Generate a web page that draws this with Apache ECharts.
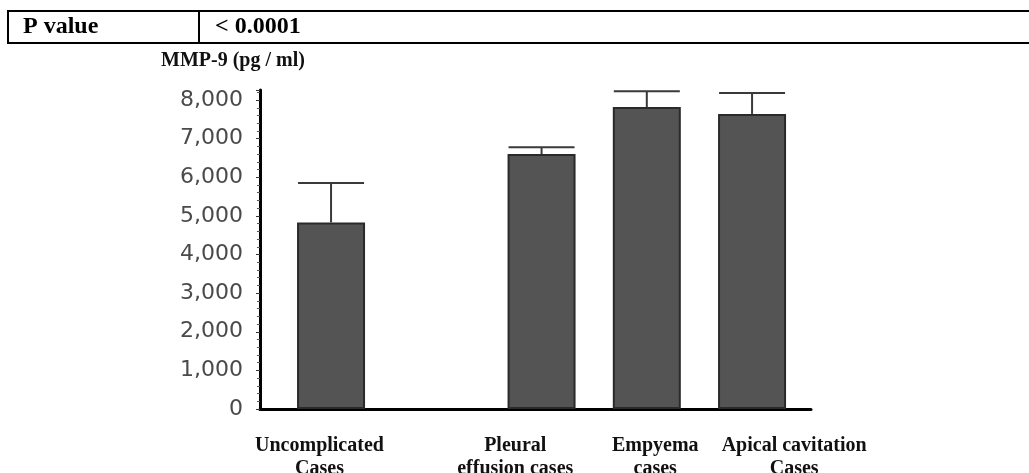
<!DOCTYPE html>
<html>
<head>
<meta charset="utf-8">
<script src="https://cdn.jsdelivr.net/npm/echarts@6/dist/echarts.min.js"></script>
<style>
  html, body { margin: 0; padding: 0; background: #fff; }
  #chart { width: 1029px; height: 473px; }
</style>
</head>
<body>
<div id="chart"></div>
<script>
// groups, in order along the x axis
const categories = ['Uncomplicated\nCases', 'Pleural\neffusion cases', 'Empyema\ncases', 'Apical cavitation\nCases'];
// slot of each bar on the x scale (one empty slot after the first bar)
const barSlots = [1, 3, 4, 5];
// mean MMP-9 (pg/ml) and top of the error bar
const means = [4830, 6600, 7820, 7640];
const upper = [5850, 6780, 8230, 8180];
// y tick labels
const yTicks = [0, 1000, 2000, 3000, 4000, 5000, 6000, 7000, 8000];
// where the group names sit on the x scale (not centred under the bars in the original)
const labelSlots = [0.89, 2.75, 4.08, 5.4];

const chart = echarts.init(document.getElementById('chart'));

const serif = '"Liberation Serif", "Times New Roman", serif';

chart.setOption({
    animation: false,
    backgroundColor: '#fff',
    title: {
        text: 'MMP-9 (pg / ml)',
        left: 156,
        top: 46,
        textStyle: { fontFamily: serif, fontWeight: 'bold', fontSize: 20, color: '#111' }
    },
    grid: { left: 260, right: 218, top: 90, bottom: 64, outerBoundsMode: 'none' },
    xAxis: {
        type: 'value',
        min: 0.325,
        max: 5.56,
        splitLine: { show: false },
        axisTick: { show: false },
        axisLine: { show: true, lineStyle: { color: '#000', width: 3 } },
        axisLabel: {
            customValues: labelSlots,
            margin: 25,
            fontFamily: serif,
            fontWeight: 'bold',
            fontSize: 20,
            lineHeight: 23,
            color: '#111',
            formatter: function (v) {
                const i = labelSlots.indexOf(v);
                return i >= 0 ? categories[i] : '';
            }
        }
    },
    yAxis: {
        type: 'value',
        min: 0,
        max: 8260,
        interval: 1000,
        splitLine: { show: false },
        axisLine: { show: true, lineStyle: { color: '#000', width: 3 } },
        axisTick: { show: true, length: 4, lineStyle: { color: '#333' } },
        minorTick: { show: true, splitNumber: 5, length: 3, lineStyle: { color: '#555' } },
        axisLabel: {
            showMaxLabel: false,
            margin: 17,
            fontFamily: '"DejaVu Sans", Verdana, sans-serif',
            fontSize: 22,
            color: '#4a4a4a',
            formatter: function (v) {
                return yTicks.indexOf(v) >= 0 ? v.toLocaleString('en-US') : '';
            }
        }
    },
    graphic: [
        // table rows above the chart
        { type: 'line', shape: { x1: 8, y1: 11, x2: 1029, y2: 11 }, style: { stroke: '#000', lineWidth: 2 } },
        { type: 'line', shape: { x1: 8, y1: 43, x2: 1029, y2: 43 }, style: { stroke: '#000', lineWidth: 2 } },
        { type: 'line', shape: { x1: 8, y1: 10, x2: 8, y2: 44 }, style: { stroke: '#000', lineWidth: 2 } },
        { type: 'line', shape: { x1: 199, y1: 10, x2: 199, y2: 44 }, style: { stroke: '#000', lineWidth: 2 } },
        { type: 'text', left: 23, top: 15, style: { text: 'P value', font: 'bold 24px ' + serif, fill: '#000' } },
        { type: 'text', left: 215, top: 15, style: { text: '< 0.0001', font: 'bold 24px ' + serif, fill: '#000' } }
    ],
    series: [
        {
            type: 'bar',
            data: barSlots.map((x, i) => [x, means[i]]),
            barWidth: 68,
            itemStyle: { color: '#545454', borderColor: '#2a2a2a', borderWidth: 2 },
            z: 2
        },
        {
            type: 'custom',
            data: barSlots.map((x, i) => [x, means[i], upper[i]]),
            encode: { x: 0, y: [1, 2] },
            z: 3,
            renderItem: function (params, api) {
                const lo = api.coord([api.value(0), api.value(1)]);
                const hi = api.coord([api.value(0), api.value(2)]);
                const st = { stroke: '#3a3a3a', lineWidth: 2 };
                return {
                    type: 'group',
                    children: [
                        { type: 'line', shape: { x1: lo[0], y1: lo[1], x2: hi[0], y2: hi[1] }, style: st },
                        { type: 'line', shape: { x1: hi[0] - 33, y1: hi[1], x2: hi[0] + 33, y2: hi[1] }, style: st }
                    ]
                };
            }
        }
    ]
});

window.addEventListener('resize', function () {
    chart.resize();
});
</script>
</body>
</html>
